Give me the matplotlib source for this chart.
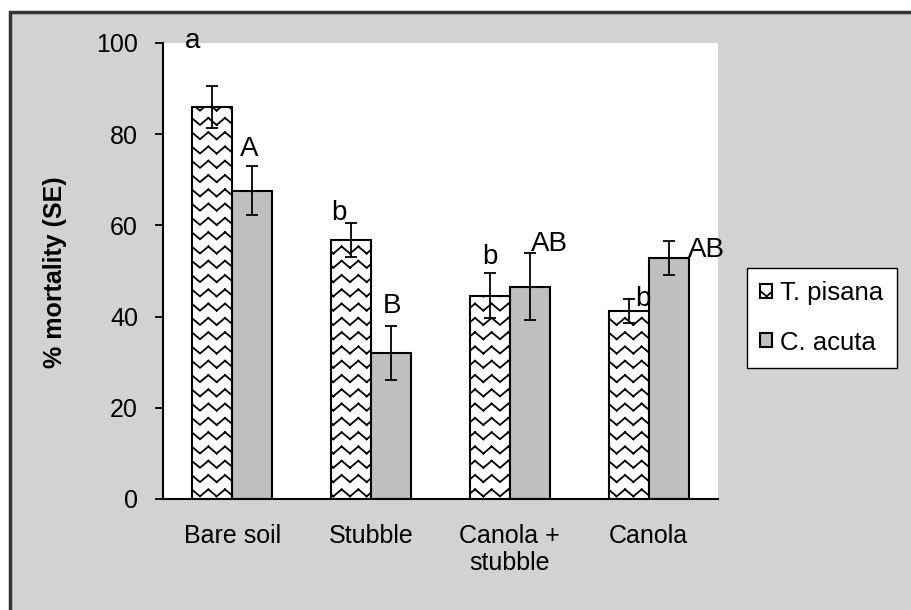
import numpy as np
import matplotlib
matplotlib.use("Agg")
import matplotlib.pyplot as plt
import matplotlib.hatch as mhatch
from matplotlib.path import Path
from matplotlib.patches import Rectangle

# data
treatments = ["Bare soil", "Stubble", "Canola +\nstubble", "Canola"]
species = ["T. pisana", "C. acuta"]
pisana_mean = [86.0, 56.8, 44.6, 41.3]
pisana_se = [4.6, 3.8, 4.9, 2.6]
acuta_mean = [67.6, 32.1, 46.6, 52.8]
acuta_se = [5.4, 5.9, 7.4, 3.7]
pisana_letters = ["a", "b", "b", "b"]
acuta_letters = ["A", "B", "AB", "AB"]


# wavy hatch like the Excel "wave" fill, takes the place of '|'
# drawn as separate segments so Agg does not fill the zigzag
class WaveHatch(mhatch.HatchPatternBase):
    def __init__(self, hatch, density):
        self.rows = hatch.count('|') * 7
        self.cols = 6
        self.num_vertices = self.rows * self.cols * 2 * 2

    def set_vertices_and_codes(self, vertices, codes):
        amp = 0.07
        xs = np.linspace(0.0, 1.0, 2 * self.cols + 1)
        k = 0
        for r in range(self.rows):
            y0 = (r + 0.5) / self.rows - amp / 2
            for j in range(2 * self.cols):
                vertices[k] = (xs[j], y0 + amp * (j % 2))
                vertices[k + 1] = (xs[j + 1], y0 + amp * ((j + 1) % 2))
                codes[k] = Path.MOVETO
                codes[k + 1] = Path.LINETO
                k += 2


mhatch._hatch_types = [WaveHatch if t is mhatch.VerticalHatch else t
                       for t in mhatch._hatch_types]

plt.rcParams['font.family'] = ['Liberation Sans', 'DejaVu Sans']
plt.rcParams['hatch.linewidth'] = 1.3

fig = plt.figure(figsize=(9.11, 6.10), dpi=100)
fig.patch.set_facecolor('white')
fig.add_artist(Rectangle((10 / 911, -0.05), 1.0, 1 - 12 / 610 + 0.05,
                         transform=fig.transFigure, facecolor='#d1d2d4',
                         edgecolor='#333333', linewidth=2.5, zorder=-10))

ax = fig.add_axes([163 / 911, 1 - 499 / 610, 555 / 911, 456 / 610])
ax.set_facecolor('white')

x = np.arange(len(treatments))
w = 0.288
err_kw = dict(ecolor='black', elinewidth=1.3, capsize=4, capthick=1.3)
b1 = ax.bar(x - w / 2, pisana_mean, w, yerr=pisana_se, color='white',
            edgecolor='black', linewidth=1.5, hatch='|', label=species[0],
            error_kw=err_kw, zorder=2)
b2 = ax.bar(x + w / 2, acuta_mean, w, yerr=acuta_se, color='#bebfbf',
            edgecolor='black', linewidth=1.5, label=species[1],
            error_kw=err_kw, zorder=2)

# significance letters (offsets in points from top of error bar)
p_off = [(-14, 32), (-9, 7), (0, 12), (10, 0)]
a_off = [(-2, 12), (1, 14), (14, 6), (27, -6)]
for i in range(len(treatments)):
    ax.annotate(pisana_letters[i], (x[i] - w / 2, pisana_mean[i] + pisana_se[i]),
                xytext=p_off[i], textcoords='offset points', ha='center',
                va='center', fontsize=20)
    ax.annotate(acuta_letters[i], (x[i] + w / 2, acuta_mean[i] + acuta_se[i]),
                xytext=a_off[i], textcoords='offset points', ha='center',
                va='center', fontsize=20)

ax.set_xlim(-0.5, 3.5)
ax.set_ylim(0, 100)
ax.set_yticks([0, 20, 40, 60, 80, 100])
ax.set_xticks(x)
ax.set_xticklabels(treatments, fontsize=18, linespacing=1.15)
ax.tick_params(axis='y', labelsize=18, length=6, width=1.3, pad=12)
ax.tick_params(axis='x', length=0, pad=18)
for s in ['top', 'right']:
    ax.spines[s].set_visible(False)
for s in ['left', 'bottom']:
    ax.spines[s].set_linewidth(1.5)

fig.text(55 / 911, 1 - 272 / 610, "% mortality (SE)", rotation=90,
         ha='center', va='center', fontsize=18, fontweight='bold')

leg = fig.legend(handles=[b1, b2], loc='upper left',
                 bbox_to_anchor=(747 / 911, 1 - 268 / 610), fontsize=18.5,
                 frameon=True, fancybox=False, handlelength=0.47,
                 handleheight=0.47, handletextpad=0.3, labelspacing=0.98,
                 borderpad=0.52, borderaxespad=0)
leg.get_frame().set_edgecolor('black')
leg.get_frame().set_linewidth(1.0)
leg.get_frame().set_facecolor('white')
leg.get_frame().set_alpha(1)

fig.savefig("out.png", dpi=100)
